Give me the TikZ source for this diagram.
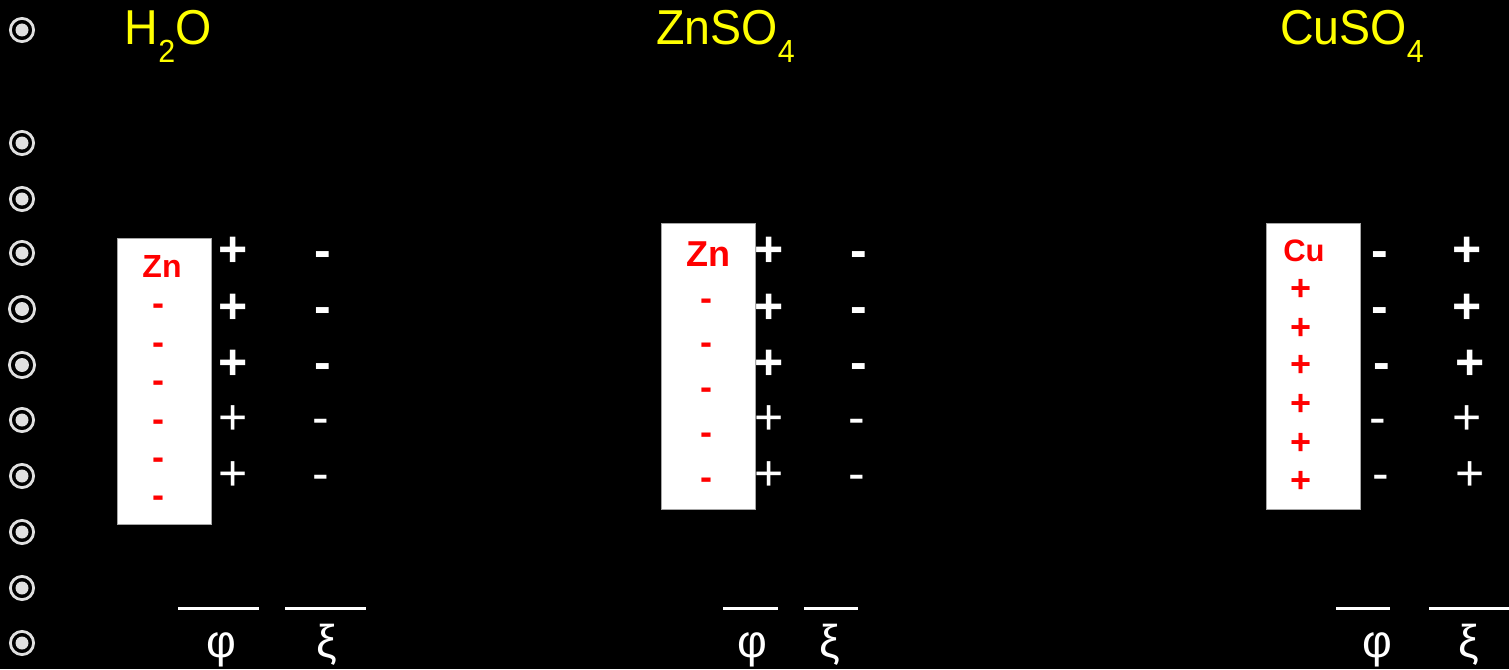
\documentclass[tikz,border=0pt]{standalone}
\usepackage{fontspec}
\setmainfont{Liberation Sans}
\definecolor{bulc}{HTML}{E0E0E0}
\definecolor{ttl}{HTML}{FFFF00}
\definecolor{rd}{HTML}{FF0000}
\newcommand{\ttlsub}[1]{\raisebox{-18pt}{\fontsize{32}{34}\selectfont #1}}
\begin{document}
\begin{tikzpicture}[x=1pt,y=-1pt,
  title/.style={text=ttl, anchor=base west, inner sep=0pt, font=\fontsize{49}{52}\selectfont},
  metal/.style={draw=gray!70, line width=1pt, fill=white, inner sep=0pt, minimum width=94pt, minimum height=286pt},
  wpb/.style={text=white, anchor=base, inner sep=0pt, font={\fontsize{50}{50}\selectfont\bfseries}, yshift=-17.6pt},
  wpr/.style={text=white, anchor=base, inner sep=0pt, font={\fontsize{50}{50}\selectfont}, yshift=-17.6pt},
  wmb/.style={text=white, anchor=base, inner sep=0pt, font={\fontsize{50}{50}\selectfont\bfseries}, yshift=-13pt},
  wmr/.style={text=white, anchor=base, inner sep=0pt, font={\fontsize{50}{50}\selectfont}, yshift=-13pt},
  rmin/.style={text=rd, anchor=base, inner sep=0pt, font={\fontsize{36}{36}\selectfont\bfseries}, yshift=-9pt},
  rplus/.style={text=rd, anchor=base, inner sep=0pt, font={\fontsize{36}{36}\selectfont\bfseries}, yshift=-12.7pt},
  metname/.style={text=rd, anchor=base, inner sep=0pt},
  greek/.style={text=white, anchor=base, inner sep=0pt, font=\fontsize{46}{50}\selectfont},
  bar/.style={draw=white, line width=3pt}
]
\fill[black] (0,0) rectangle (1509,669);
\useasboundingbox (0,0) rectangle (1509,669);
% bullets
\foreach \y/\r in {30/13,143/13,199/13,253/13,309/14,365/14,420/13,476/13,532/13,588/13,643/13}{
  \draw[bulc, line width=2.8pt] (22,\y) circle[radius=\r pt-1.4pt];
  \fill[bulc] (22,\y) circle[radius=0.5*\r pt];
}
% titles
\node[title] (h2o) at (124.5,45) {\scalebox{0.95}[1]{H\ttlsub{2}O}};
\node[title] (znso4) at (656,45) {\scalebox{0.95}[1]{ZnSO\ttlsub{4}}};
\node[title] (cuso4) at (1280,45) {\scalebox{0.95}[1]{CuSO\ttlsub{4}}};
% boxes
\node[metal] (box1) at (164,381) {};
\node[metal] (box2) at (708,366) {};
\node[metal] (box3) at (1313,366) {};
\node[metname, font={\fontsize{32}{32}\selectfont\bfseries}] (zn1) at (162,277) {Zn};
\node[metname, font={\fontsize{36}{36}\selectfont\bfseries}] (zn2) at (708,266) {Zn};
\node[metname, font={\fontsize{31}{31}\selectfont\bfseries}] (cu3) at (1304,261) {Cu};
% box1 charges
\foreach \y [count=\i] in {306,345,383,422,460,498} \node[rmin] (a\i) at (158,\y) {-};
\node[wpb] (p11) at (233,249) {+};
\node[wpb] (p12) at (233,306) {+};
\node[wpb] (p13) at (233,362) {+};
\node[wpr] (p14) at (233,417) {+};
\node[wpr] (p15) at (233,473) {+};
\node[wmb] (m11) at (323,254) {-};
\node[wmb] (m12) at (323,310) {-};
\node[wmb] (m13) at (323,366) {-};
\node[wmr] (m14) at (321,421) {-};
\node[wmr] (m15) at (321,477) {-};
% box2 charges
\foreach \y [count=\i] in {301,345,390,435,480} \node[rmin] (b\i) at (706,\y) {-};
\node[wpb] (p21) at (769,249) {+};
\node[wpb] (p22) at (769,306) {+};
\node[wpb] (p23) at (769,362) {+};
\node[wpr] (p24) at (769,417) {+};
\node[wpr] (p25) at (769,473) {+};
\node[wmb] (m21) at (859,254) {-};
\node[wmb] (m22) at (859,310) {-};
\node[wmb] (m23) at (859,366) {-};
\node[wmr] (m24) at (857,421) {-};
\node[wmr] (m25) at (857,477) {-};
% box3 charges
\foreach \y [count=\i] in {288,327,364,403,442,480} \node[rplus] (c\i) at (1301,\y) {+};
\node[wmb] (m31) at (1380,254) {-};
\node[wmb] (m32) at (1380,310) {-};
\node[wmb] (m33) at (1382,366) {-};
\node[wmr] (m34) at (1378,421) {-};
\node[wmr] (m35) at (1381,477) {-};
\node[wpb] (p31) at (1467,249) {+};
\node[wpb] (p32) at (1467,306) {+};
\node[wpb] (p33) at (1470,362) {+};
\node[wpr] (p34) at (1467,417) {+};
\node[wpr] (p35) at (1470,473) {+};
% bars and greek letters
\draw[bar] (178,608) -- (259,608);
\draw[bar] (285,608) -- (366,608);
\draw[bar] (723,608) -- (778,608);
\draw[bar] (804,608) -- (858,608);
\draw[bar] (1336,608) -- (1390,608);
\draw[bar] (1429,608) -- (1509,608);
\node[greek] (phi1) at (221,657) {φ};
\node[greek] (xi1) at (327,657) {ξ};
\node[greek] (phi2) at (752,657) {φ};
\node[greek] (xi2) at (830,657) {ξ};
\node[greek] (phi3) at (1377,657) {φ};
\node[greek] (xi3) at (1469,657) {ξ};
\end{tikzpicture}
\end{document}
